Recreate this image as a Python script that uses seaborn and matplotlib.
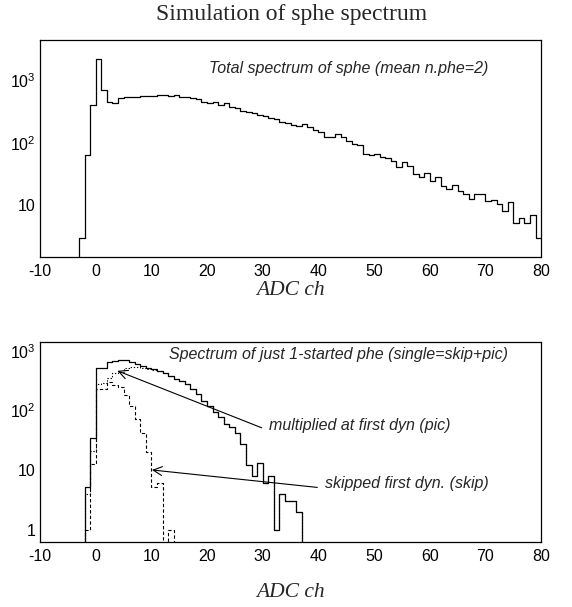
import numpy as np
import pandas as pd
import matplotlib
matplotlib.use("Agg")
import matplotlib.pyplot as plt
import seaborn as sns
from matplotlib.ticker import MultipleLocator, LogLocator, FuncFormatter, NullFormatter

# ---- data (1 ADC-channel bins) ----
# top panel: total spectrum, bins starting at -4
total_start = -4
total_counts = [0, 3, 65, 400, 2200, 690, 457, 440, 530, 537,
                540, 550, 552, 565, 570, 586, 586, 570, 586, 540,
                537, 518, 500, 457, 430, 457, 404, 441, 380, 358,
                324, 311, 296, 279, 269, 246, 240, 212, 204, 192,
                187, 200, 176, 163, 150, 124, 124, 137, 124, 106,
                95, 91, 67, 63, 67, 59, 58, 51, 41, 49,
                42, 32, 28, 32.5, 25, 29, 20.5, 18, 21, 17,
                15.5, 12.5, 15, 15, 11.8, 12, 10.4, 8.1, 11.5, 5.2,
                6.2, 5.2, 7, 3]

# bottom panel: 1-started phe, bins starting at -3
single_start = -3
single_counts = [0, 5.1, 34, 515, 515, 641, 683, 689, 700, 658,
                 596, 547, 515, 484, 455, 417, 378, 334, 307, 275,
                 230, 185, 145, 117, 92, 76, 60, 53, 41, 27,
                 12, 8, 13, 6, 8, 1, 4, 3, 3, 2, 0]
pic_counts = [0, 4, 21, 280, 285, 345, 420, 445, 520, 540,
              525, 506, 495, 479, 449, 417, 377, 334, 307, 275,
              230, 185, 145, 117, 92, 76, 60, 53, 41, 27,
              12, 8, 13, 6, 8, 1, 4, 3, 3, 2, 0]
skip_counts = [0, 1, 12.8, 225, 231, 296, 261, 246, 181, 117,
               72, 41, 20, 5.1, 6.1, 0, 1, 0]

ytick_labels = {1: "1", 10: "10", 100: r"$\mathregular{10^{2}}$", 1000: r"$\mathregular{10^{3}}$"}


def hist_frame(start, counts):
    lo = np.arange(start, start + len(counts))
    edges = [float(v) for v in range(start, start + len(counts) + 1)]
    return pd.DataFrame({"adc": lo + 0.5, "n": counts}), edges


sns.set_style("white")
plt.rcParams["font.family"] = ["Liberation Sans", "DejaVu Sans"]
plt.rcParams["axes.linewidth"] = 0.9
plt.rcParams["axes.unicode_minus"] = False

fig = plt.figure(figsize=(5.72, 6.07), dpi=100)
ax1 = fig.add_axes([0.070, 0.5766, 0.876, 0.3575])
ax2 = fig.add_axes([0.070, 0.1071, 0.876, 0.3295])

hist_kw = dict(element="step", fill=False, color="black")

df_tot, e_tot = hist_frame(total_start, total_counts)
sns.histplot(data=df_tot, x="adc", weights="n", bins=e_tot, linewidth=0.9, ax=ax1, **hist_kw)

df_skip, e_skip = hist_frame(single_start, skip_counts)
df_pic, e_pic = hist_frame(single_start, pic_counts)
df_single, e_single = hist_frame(single_start, single_counts)
sns.histplot(data=df_skip, x="adc", weights="n", bins=e_skip, linewidth=0.8,
             linestyle=(0, (3, 2)), ax=ax2, **hist_kw)
sns.histplot(data=df_pic, x="adc", weights="n", bins=e_pic, linewidth=0.8,
             linestyle=(0, (1.2, 1.6)), ax=ax2, **hist_kw)
sns.histplot(data=df_single, x="adc", weights="n", bins=e_single, linewidth=0.9, ax=ax2, **hist_kw)

for ax, ylim in ((ax1, (1.5, 4400)), (ax2, (0.62, 1400))):
    ax.set_yscale("log")
    ax.set_ylim(*ylim)
    ax.set_xlim(-10, 80)
    ax.xaxis.set_major_locator(MultipleLocator(10))
    ax.xaxis.set_minor_locator(MultipleLocator(2))
    ax.yaxis.set_major_locator(LogLocator(base=10, numticks=10))
    ax.yaxis.set_minor_locator(LogLocator(base=10, subs=np.arange(2, 10), numticks=20))
    ax.yaxis.set_major_formatter(FuncFormatter(lambda v, p: ytick_labels.get(int(round(v)), "")))
    ax.yaxis.set_minor_formatter(NullFormatter())
    ax.tick_params(which="both", direction="in", top=False, right=False, labelsize=11.5, colors="black")
    ax.tick_params(which="major", length=6, width=0.8)
    ax.tick_params(which="minor", length=3, width=0.8)
    ax.tick_params(axis="x", pad=5)
    ax.tick_params(axis="y", pad=3)
    for s in ax.spines.values():
        s.set_color("black")
    ax.set_ylabel("")
    ax.set_xlabel("ADC ch", family="Liberation Serif", style="italic", fontsize=15.5)
    ax.xaxis.label.set_va("center")

ax1.xaxis.set_label_coords(0.5, -0.155)
ax2.xaxis.set_label_coords(0.5, -0.255)

txt_kw = dict(style="italic", fontsize=11.5, va="center", ha="left")
ax1.text(20.4, 1540, "Total spectrum of sphe (mean n.phe=2)", **txt_kw)
ax2.text(13.25, 870, "Spectrum of just 1-started phe (single=skip+pic)", **txt_kw)
ax2.text(31.1, 55, "multiplied at first dyn (pic)", **txt_kw)
ax2.text(41.1, 5.9, "skipped first dyn. (skip)", **txt_kw)

arrow_kw = dict(arrowstyle="->", color="black", lw=0.8, shrinkA=0, shrinkB=0, mutation_scale=16)
ax2.annotate("", xy=(3.9, 460), xytext=(29.8, 51), arrowprops=arrow_kw)
ax2.annotate("", xy=(10.1, 10), xytext=(39.8, 5.1), arrowprops=arrow_kw)

fig.text(0.51, 0.9753, "Simulation of sphe spectrum", family="Liberation Serif",
         fontsize=17, ha="center", va="center")

fig.savefig("out.png", dpi=100)
